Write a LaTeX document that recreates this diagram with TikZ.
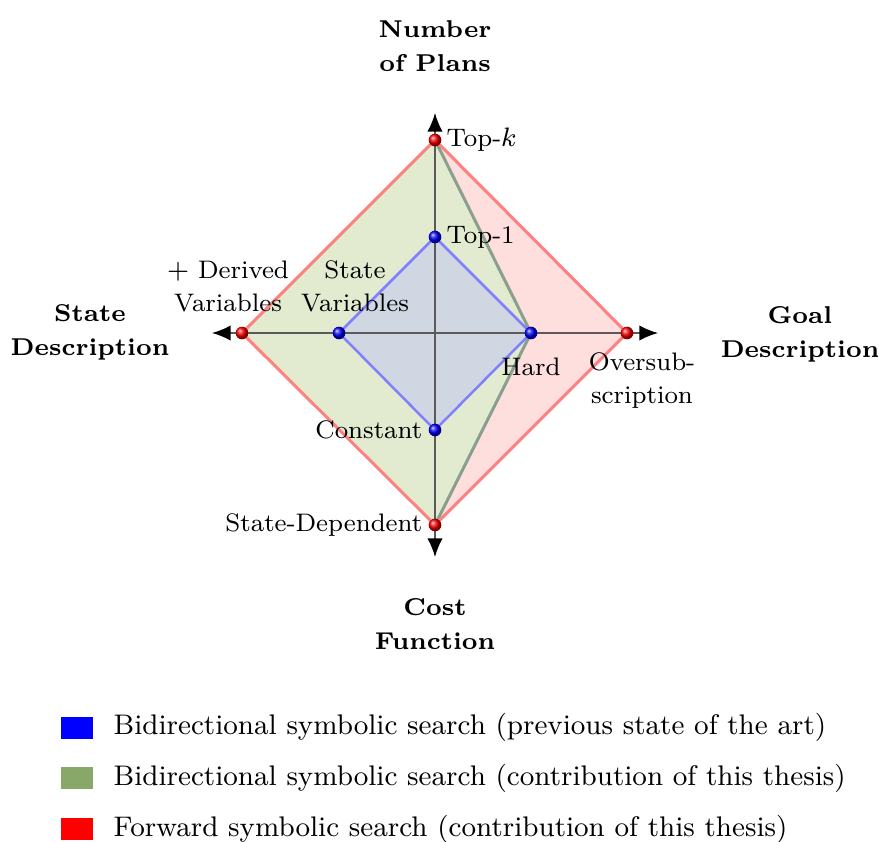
\documentclass[tikz,border=0pt]{standalone}
\usetikzlibrary{arrows.meta,shadings}
\definecolor{redfill}{RGB}{255,222,222}
\definecolor{redline}{RGB}{255,128,128}
\definecolor{greenfill}{RGB}{226,234,208}
\definecolor{greenline}{RGB}{138,160,140}
\definecolor{bluefill}{RGB}{208,215,226}
\definecolor{blueline}{RGB}{128,128,255}
\definecolor{axisgray}{RGB}{90,90,90}
\definecolor{leggreen}{RGB}{136,168,106}
\tikzset{
  lbl/.style={font=\fontsize{7.6}{9.9}\selectfont, inner sep=0pt, align=center},
  ttl/.style={font=\fontsize{7.3}{10.2}\selectfont\bfseries, inner sep=0pt, align=center},
  legtxt/.style={font=\fontsize{8.5}{10}\selectfont, inner sep=0pt, anchor=west},
  axisline/.style={draw=axisgray, line width=0.45pt, -{Latex[color=black,length=5.6pt,width=4.6pt]}},
  redball/.style={circle, inner sep=0pt, minimum size=3.8pt, shading=ball, ball color=red},
  blueball/.style={circle, inner sep=0pt, minimum size=3.8pt, shading=ball, ball color=blue},
  legbox/.style={minimum width=9.6pt, minimum height=6.6pt, inner sep=0pt}
}
\begin{document}
\begin{tikzpicture}[x=0.3pt, y=-0.3pt]
\useasboundingbox (0,0) rectangle (878,842);
% points
\coordinate (C) at (435,333);
\coordinate (RT) at (435,140);
\coordinate (RB) at (435,525);
\coordinate (RL) at (242,333);
\coordinate (RR) at (627,333);
\coordinate (BT) at (435,237);
\coordinate (BB) at (435,430);
\coordinate (BL) at (339,333);
\coordinate (BR) at (531,333);
\coordinate (AT) at (435,113);
\coordinate (AB) at (435,557);
\coordinate (AL) at (212,333);
\coordinate (AR) at (658,333);
% fills
\fill[redfill] (RT) -- (RR) -- (RB) -- (RL) -- cycle;
\fill[greenfill] (RT) -- (BR) -- (RB) -- (RL) -- cycle;
\fill[bluefill] (BT) -- (BR) -- (BB) -- (BL) -- cycle;
% axes
\draw[axisline] (C) -- (AT);
\draw[axisline] (C) -- (AB);
\draw[axisline] (C) -- (AL);
\draw[axisline] (C) -- (AR);
% outlines
\draw[greenline, line width=0.9pt, line join=round] (RT) -- (BR) -- (RB);
\draw[redline, line width=0.9pt, line join=round] (RT) -- (RR) -- (RB) -- (RL) -- cycle;
\draw[blueline, line width=0.75pt, line join=round] (BT) -- (BR) -- (BB) -- (BL) -- cycle;
% balls
\node[redball] (bRT) at (RT) {};
\node[redball] (bRB) at (RB) {};
\node[redball] (bRL) at (RL) {};
\node[redball] (bRR) at (RR) {};
\node[blueball] (bBT) at (BT) {};
\node[blueball] (bBB) at (BB) {};
\node[blueball] (bBL) at (BL) {};
\node[blueball] (bBR) at (BR) {};
% labels
\node[lbl, anchor=west] (lTopk) at (446,140) {Top-$k$};
\node[lbl, anchor=west] (lTop1) at (446,237) {Top-1};
\node[lbl] (lDer) at (228,286) {$+$ Derived\\Variables};
\node[lbl] (lSV) at (355,286) {State\\Variables};
\node[lbl] (lHard) at (531,367) {Hard};
\node[lbl] (lOver) at (642,381) {Oversub-\\scription};
\node[lbl, anchor=east] (lConst) at (423,430) {Constant};
\node[lbl, anchor=east] (lSD) at (423,525) {State-Dependent};
% titles
\node[ttl] (tTop) at (435,46) {Number\\of Plans};
\node[ttl] (tRight) at (800,334) {Goal\\Description};
\node[ttl] (tLeft) at (90,332) {State\\Description};
\node[ttl] (tBot) at (435,624) {Cost\\Function};
% legend
\node[legbox, fill=blue] (k1) at (77,728) {};
\node[legbox, fill=leggreen] (k2) at (77,778) {};
\node[legbox, fill=red] (k3) at (77,829) {};
\node[legtxt] (t1) at (113,727) {Bidirectional symbolic search (previous state of the art)};
\node[legtxt] (t2) at (113,778) {Bidirectional symbolic search (contribution of this thesis)};
\node[legtxt] (t3) at (113,829) {Forward symbolic search (contribution of this thesis)};
\end{tikzpicture}
\end{document}
